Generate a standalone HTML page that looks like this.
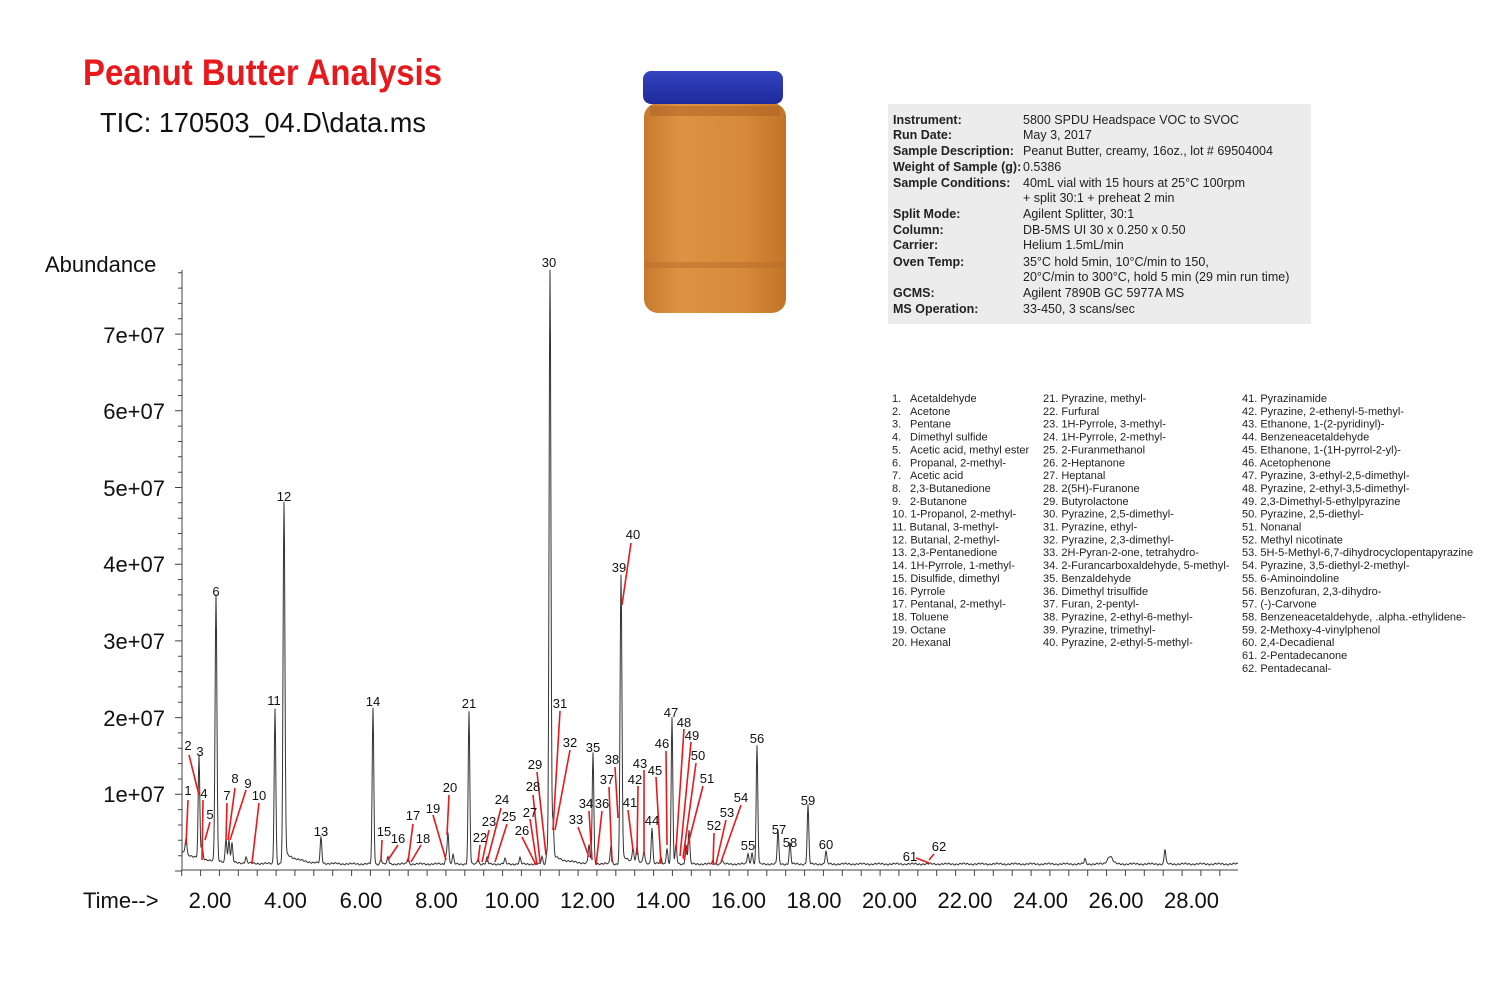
<!DOCTYPE html>
<html><head><meta charset="utf-8"><style>
html,body{margin:0;padding:0;background:#fff;}
svg{display:block;}
</style></head><body>
<svg id="s" width="1500" height="1000" viewBox="0 0 1500 1000" xmlns="http://www.w3.org/2000/svg">
<rect width="1500" height="1000" fill="#fff"/>
<text x="83" y="85" font-family="Liberation Sans Narrow, Liberation Sans, sans-serif" font-weight="bold" font-size="37" fill="#e8191c" textLength="359" lengthAdjust="spacingAndGlyphs">Peanut Butter Analysis</text>
<text x="100" y="132" font-family="Liberation Sans, sans-serif" font-size="28" fill="#111" textLength="326" lengthAdjust="spacingAndGlyphs">TIC: 170503_04.D\data.ms</text>
<defs>
<linearGradient id="jb" x1="0" x2="1" y1="0" y2="0">
<stop offset="0" stop-color="#c77a2e"/><stop offset="0.25" stop-color="#dd9343"/><stop offset="0.7" stop-color="#d68a3a"/><stop offset="1" stop-color="#c27428"/></linearGradient>
<linearGradient id="lb" x1="0" x2="0" y1="0" y2="1">
<stop offset="0" stop-color="#3344c0"/><stop offset="1" stop-color="#1f2a9a"/></linearGradient>
</defs>
<rect x="644" y="103" width="142" height="210" rx="14" fill="url(#jb)"/>
<rect x="650" y="106" width="130" height="10" fill="#a85f22" opacity="0.5"/>
<rect x="644" y="262" width="142" height="6" fill="#b86c2a" opacity="0.5"/>
<rect x="643" y="71" width="140" height="33" rx="8" fill="url(#lb)"/>
<rect x="888" y="104" width="423" height="220" fill="#ececec"/>
<g id="info" font-family="Liberation Sans Narrow, Liberation Sans, sans-serif" font-size="12.5" fill="#222"></g>
<g id="list" font-family="Liberation Sans Narrow, Liberation Sans, sans-serif" font-size="11" fill="#222"></g>
<g font-family="Liberation Sans, sans-serif" font-size="22" fill="#111">
<text x="45" y="272">Abundance</text>
<text x="165" y="343" text-anchor="end">7e+07</text>
<text x="165" y="419" text-anchor="end">6e+07</text>
<text x="165" y="496" text-anchor="end">5e+07</text>
<text x="165" y="572" text-anchor="end">4e+07</text>
<text x="165" y="649" text-anchor="end">3e+07</text>
<text x="165" y="726" text-anchor="end">2e+07</text>
<text x="165" y="802" text-anchor="end">1e+07</text>
<text x="83" y="908">Time--&gt;</text>
</g>
<g id="xl" font-family="Liberation Sans, sans-serif" font-size="22" fill="#111" text-anchor="middle"></g>
<g id="ax" stroke="#444" stroke-width="1" fill="none"></g>
<path id="tr" fill="none" stroke="#333" stroke-width="1"/>
<g id="rl" stroke="#e8191c" stroke-width="1.6"></g>
<g id="pl" font-family="Liberation Sans, sans-serif" font-size="13" fill="#111" text-anchor="middle"></g>
</svg>
<script>
var NS="http://www.w3.org/2000/svg";
function el(p,t,a,txt){var e=document.createElementNS(NS,t);for(var k in a)e.setAttribute(k,a[k]);if(txt!==undefined)e.textContent=txt;document.getElementById(p).appendChild(e);return e;}
var info=[["Instrument:","5800 SPDU Headspace VOC to SVOC",120],["Run Date:","May 3, 2017",135],["Sample Description:","Peanut Butter, creamy, 16oz., lot # 69504004",151],["Weight of Sample (g):","0.5386",167],["Sample Conditions:","40mL vial with 15 hours at 25\u00b0C 100rpm",183],["","+ split 30:1 + preheat 2 min",198],["Split Mode:","Agilent Splitter, 30:1",214],["Column:","DB-5MS UI 30 x 0.250 x 0.50",230],["Carrier:","Helium 1.5mL/min",245],["Oven Temp:","35\u00b0C hold 5min, 10\u00b0C/min to 150,",262],["","20\u00b0C/min to 300\u00b0C, hold 5 min (29 min run time)",277],["GCMS:","Agilent 7890B GC 5977A MS",293],["MS Operation:","33-450, 3 scans/sec",309]];
info.forEach(function(r){if(r[0])el("info","text",{x:893,y:r[2]+4,"font-weight":"bold"},r[0]);el("info","text",{x:1023,y:r[2]+4},r[1]);});
var names=["Acetaldehyde","Acetone","Pentane","Dimethyl sulfide","Acetic acid, methyl ester","Propanal, 2-methyl-","Acetic acid","2,3-Butanedione","2-Butanone","1-Propanol, 2-methyl-","Butanal, 3-methyl-","Butanal, 2-methyl-","2,3-Pentanedione","1H-Pyrrole, 1-methyl-","Disulfide, dimethyl","Pyrrole","Pentanal, 2-methyl-","Toluene","Octane","Hexanal","Pyrazine, methyl-","Furfural","1H-Pyrrole, 3-methyl-","1H-Pyrrole, 2-methyl-","2-Furanmethanol","2-Heptanone","Heptanal","2(5H)-Furanone","Butyrolactone","Pyrazine, 2,5-dimethyl-","Pyrazine, ethyl-","Pyrazine, 2,3-dimethyl-","2H-Pyran-2-one, tetrahydro-","2-Furancarboxaldehyde, 5-methyl-","Benzaldehyde","Dimethyl trisulfide","Furan, 2-pentyl-","Pyrazine, 2-ethyl-6-methyl-","Pyrazine, trimethyl-","Pyrazine, 2-ethyl-5-methyl-","Pyrazinamide","Pyrazine, 2-ethenyl-5-methyl-","Ethanone, 1-(2-pyridinyl)-","Benzeneacetaldehyde","Ethanone, 1-(1H-pyrrol-2-yl)-","Acetophenone","Pyrazine, 3-ethyl-2,5-dimethyl-","Pyrazine, 2-ethyl-3,5-dimethyl-","2,3-Dimethyl-5-ethylpyrazine","Pyrazine, 2,5-diethyl-","Nonanal","Methyl nicotinate","5H-5-Methyl-6,7-dihydrocyclopentapyrazine","Pyrazine, 3,5-diethyl-2-methyl-","6-Aminoindoline","Benzofuran, 2,3-dihydro-","(-)-Carvone","Benzeneacetaldehyde, .alpha.-ethylidene-","2-Methoxy-4-vinylphenol","2,4-Decadienal","2-Pentadecanone","Pentadecanal-"];
names.forEach(function(n,i){var col=Math.min(2,Math.floor(i/20)),row=i-col*20;var y=402+row*12.85;var x=[892,1043,1242][col];
 if(i<9){el("list","text",{x:x,y:y},(i+1)+".");el("list","text",{x:910,y:y},n);}else el("list","text",{x:x,y:y},(i+1)+". "+n);});
function X(t){return 210+(t-2)*37.75;}
for(var t=2;t<=28;t+=2)el("xl","text",{x:X(t),y:908},t.toFixed(2));
var d="M182 270 V870 H1238";
for(var t=1.25;t<=29;t+=0.5){var big=Math.abs(t/2-Math.round(t/2))<0.01;d+=" M"+X(t).toFixed(1)+" 870 v"+(big?10:6);}
for(var v=0;v<=78;v+=2){var y=871-v*7.67;var big=v%10==0;d+=" M182 "+y.toFixed(1)+" h-"+(big?7:4);}
el("ax","path",{d:d});
var pk=[[186,848],[199,762],[202,850],[216,598],[226,840],[229,842],[232,845],[246,858],[275,708],[284,503],[321,838],[373,708],[381,859],[388,857],[408,858],[446,856],[448,832],[453,855],[469,712],[478,858],[487,858],[505,859],[520,858],[542,857],[547,852],[550,270],[553,830],[589,845],[593,753],[611,845],[621,575],[633,850],[637,848],[644,852],[652,828],[661,858],[667,848],[672,718],[676,845],[686,845],[689,830],[713,861],[722,860],[748,853],[752,852],[757,746],[778,830],[790,843],[808,805],[826,851],[1085,859],[1110,856],[1165,849]];
function base(x){var b=864+Math.sin(x*1.7)*0.6+Math.sin(x*0.37)*0.5;b-=12*Math.exp(-(x-182)/25);if(x>284)b-=12*Math.exp(-(x-284)/14);if(x>550)b-=10*Math.exp(-(x-550)/15);if(x>621)b-=8*Math.exp(-(x-621)/12);return b;}
var p="";for(var x=182;x<=1238;x+=0.5){var y=base(x);var h=0;pk.forEach(function(q){var A=864-q[1];var s=A>200?0.9:0.8;if(q[0]==1110)s=2.5;h+=A*Math.exp(-Math.pow(x-q[0],2)/(2*s*s));});y-=h;p+=(x==182?"M":"L")+x+" "+y.toFixed(1);}
document.getElementById("tr").setAttribute("d",p);
var L=[[1,188,795,188,800,186,845],[2,188,750,189,755,199,795],[3,200,756],[4,204,798,203,800,202,860],[5,210,819,210,822,205,840],[6,216,596],[7,227,800,227,803,226,840],[8,235,783,235,788,228,840],[9,248,788,246,790,230,840],[10,259,800,259,803,252,863],[11,274,705],[12,284,501],[13,321,836],[14,373,706],[15,384,836,382,840,381,860],[16,398,843,398,845,388,860],[17,413,820,413,824,408,862],[18,423,843,421,845,411,862],[19,433,813,433,815,446,860],[20,450,792,449,795,447,835],[21,469,708],[22,480,842,480,845,478,862],[23,489,826,489,830,482,862],[24,502,804,501,808,487,862],[25,509,821,507,824,495,862],[26,522,835,522,837,536,865],[27,530,817,530,819,537,865],[28,533,791,533,795,540,862],[29,535,769,537,772,546,855],[30,549,267],[31,560,708,560,711,553,830],[32,570,747,570,750,555,830],[33,576,824,578,827,589,857],[34,586,808,589,811,592,860],[35,593,752],[36,602,808,602,811,596,865],[37,607,784,609,787,612,862],[38,612,764,615,767,618,818],[39,619,572],[40,633,539,631,543,622,605],[41,630,807,628,810,633,850],[42,635,784,638,786,637,855],[43,640,768,644,770,644,855],[44,652,825],[45,655,775,656,777,661,864],[46,662,748,666,751,667,845],[47,671,717],[48,684,727,684,729,676,850],[49,692,740,691,742,680,856],[50,698,760,696,763,683,858],[51,707,783,703,786,684,860],[52,714,830,714,833,713,865],[53,727,817,726,820,716,864],[54,741,802,741,805,721,862],[55,748,850],[56,757,743],[57,779,834],[58,790,847],[59,808,805],[60,826,849],[61,910,861,916,858,929,863],[62,939,851,934,854,929,860]];
L.forEach(function(a){el("pl","text",{x:a[1],y:a[2]},String(a[0]));if(a.length>3)el("rl","line",{x1:a[3],y1:a[4],x2:a[5],y2:a[6]});});
</script>
</body></html>
